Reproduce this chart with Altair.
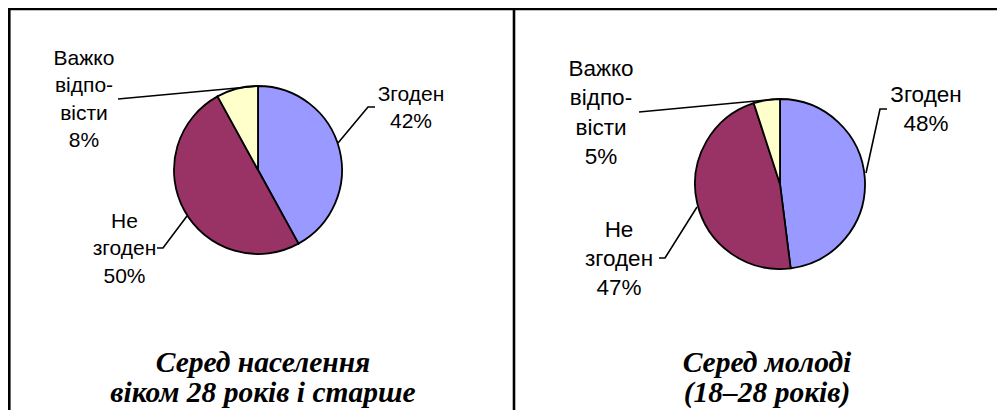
import altair as alt
import pandas as pd

# ---- data ----
categories = ["Згоден", "Не згоден", "Важко відповісти"]
label_lines = ["Згоден", "Не\nзгоден", "Важко\nвідпо-\nвісти"]
older_values = [42, 50, 8]
youth_values = [48, 47, 5]
older_title = "Серед населення\nвіком 28 років і старше"
youth_title = "Серед молоді\n(18–28 років)"
colors = ["#9999FF", "#993366", "#FFFFCC"]

# ---- layout (page pixels) ----
W, H = 989, 402
OFF = 8
panels = [
    dict(name="older", values=older_values, title=older_title,
         cx=258, cy=170, r=84, font=21, lh=27.3,
         label_pos=[(411, 100.7), (124.5, 228), (84, 65)],
         leaders=[[(375, 107), (368, 107), (338, 143)],
                  [(157, 248), (163, 248), (187, 216)],
                  [(118, 99), (258, 86)]],
         title_x=263, title_y=372),
    dict(name="youth", values=youth_values, title=youth_title,
         cx=780, cy=184, r=85, font=22.5, lh=29.3,
         label_pos=[(926, 101.7), (619, 236.7), (601, 76)],
         leaders=[[(887, 109), (880, 109), (866, 173)],
                  [(659, 258), (665, 258), (697, 207)],
                  [(639, 112), (778, 99)]],
         title_x=767, title_y=372),
]
borders = [((0, 1), (W, 1)), ((1.3, 0), (1.3, H)), ((506, 0), (506, H))]

xs = alt.Scale(domain=[0, W], nice=False, zero=False)
ys = alt.Scale(domain=[0, H], nice=False, zero=False, reverse=True)
cscale = alt.Scale(domain=categories, range=colors)

layers = []
for p in panels:
    df = pd.DataFrame({
        "category": categories,
        "value": p["values"],
        "idx": list(range(len(categories))),
    })
    arc = alt.Chart(df).mark_arc(radius=p["r"], stroke="black", strokeWidth=1.8).encode(
        theta=alt.Theta("value:Q", stack=True),
        color=alt.Color("category:N", scale=cscale, legend=None),
        order=alt.Order("idx:Q"),
        x=alt.value(p["cx"] - OFF),
        y=alt.value(p["cy"] - OFF),
    )
    layers.append(arc)

    lab = pd.DataFrame({
        "text": [f"{l}\n{v}%" for l, v in zip(label_lines, p["values"])],
        "lx": [pos[0] - OFF for pos in p["label_pos"]],
        "ly": [pos[1] - OFF for pos in p["label_pos"]],
    })
    txt = alt.Chart(lab).mark_text(
        font="Liberation Sans", fontSize=p["font"], lineBreak="\n", lineHeight=p["lh"],
        align="center", baseline="alphabetic", color="black",
    ).encode(
        x=alt.X("lx:Q", scale=xs, axis=None),
        y=alt.Y("ly:Q", scale=ys, axis=None),
        text="text:N",
    )
    layers.append(txt)

    rows = []
    for si, seg in enumerate(p["leaders"]):
        for i, (a, b) in enumerate(seg):
            rows.append({"seg": f"{p['name']}{si}", "i": i, "x": a - OFF, "y": b - OFF})
    ld = alt.Chart(pd.DataFrame(rows)).mark_line(color="black", strokeWidth=1.6).encode(
        x=alt.X("x:Q", scale=xs, axis=None),
        y=alt.Y("y:Q", scale=ys, axis=None),
        detail="seg:N",
        order="i:Q",
    )
    layers.append(ld)

    tdf = pd.DataFrame({"t": [p["title"]], "tx": [p["title_x"] - OFF], "ty": [p["title_y"] - OFF]})
    title = alt.Chart(tdf).mark_text(
        font="Liberation Serif", fontSize=29.5,
        fontStyle="italic", fontWeight="bold",
        lineBreak="\n", lineHeight=30, align="center", baseline="alphabetic", color="black",
    ).encode(
        x=alt.X("tx:Q", scale=xs, axis=None),
        y=alt.Y("ty:Q", scale=ys, axis=None),
        text="t:N",
    )
    layers.append(title)

bdf = pd.DataFrame([{"x": a[0], "y": a[1], "x2": b[0], "y2": b[1]} for a, b in borders])
border = alt.Chart(bdf).mark_rule(color="black", strokeWidth=2.6).encode(
    x=alt.X("x:Q", scale=xs, axis=None),
    y=alt.Y("y:Q", scale=ys, axis=None),
    x2="x2:Q",
    y2="y2:Q",
)
layers.append(border)

chart = alt.layer(*layers).properties(
    width=W, height=H, padding=0, autosize=alt.AutoSizeParams(type="none"),
).configure_view(stroke=None).configure(background="white")

chart.save("out.html", embed_options={"renderer": "svg", "actions": False})
